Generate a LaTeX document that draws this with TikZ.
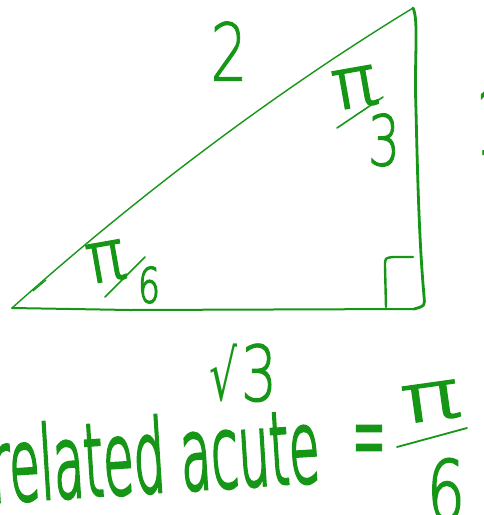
\documentclass[tikz,border=0pt]{standalone}
\usepackage{fontspec}
\usepackage{graphicx}
\newfontfamily\hand{DejaVu Sans ExtraLight}
\newfontfamily\handreg{DejaVu Sans}
\definecolor{ink}{RGB}{22,150,22}
\newcommand{\bold}[2]{\special{pdf:literal direct 2 Tr #1 w}#2\special{pdf:literal direct 0 Tr}}
\newcommand{\hw}[4][1]{\resizebox{#2pt}{#3pt}{\fontsize{64pt}{64pt}\hand\bold{#1}{#4}}}
\begin{document}
\begin{tikzpicture}[x=1pt,y=-1pt,
  pen/.style={draw=ink,line cap=round,line join=round},
  lbl/.style={text=ink,inner sep=0pt,outer sep=0pt}]
\useasboundingbox (0,0) rectangle (484,515);
\begin{scope}
\clip (0,0) rectangle (484,515);
% triangle vertices
\coordinate (A) at (12,308);
\coordinate (C) at (413,8);
\coordinate (B) at (414,309);
% hypotenuse
\draw[pen,line width=1.4pt] (A) .. controls (135,198) and (272,94) .. (C);
\draw[pen,line width=1.2pt] (33,291) -- (46,280);
% right side
\draw[pen,line width=2.8pt] (C) .. controls (419,20) and (414,60) .. (416,110)
  .. controls (418,200) and (420,250) .. (424,296) .. controls (425,306) .. (B);
% bottom side
\draw[pen,line width=2pt] (B) -- (130,310) -- (A);
% right angle mark
\draw[pen,line width=2.4pt] (386,307) -- (385,266) .. controls (385,258) .. (393,257) -- (413,257);
% labels
\node[lbl] (two) at (229,51) {\hw[0.8]{37}{59}{2}};
\node[lbl] (one) at (489,121) {\hw[1]{24}{67}{1}};
\node[lbl,rotate=10] (pia) at (355,88) {\hw[2]{44}{38}{π}};
\draw[pen,line width=1.6pt] (337,128) -- (383,97);
\node[lbl] (three) at (384,140) {\hw[1]{32}{52}{3}};
\node[lbl,rotate=10] (pib) at (106,262) {\hw[2]{38}{38}{π}};
\draw[pen,line width=1.6pt] (105,297) -- (145,257);
\node[lbl] (six) at (149,285) {\hw[2]{22}{36}{6}};
\node[lbl] (root) at (243,373) {\fontsize{64pt}{64pt}\resizebox*{28pt}{58pt}{\handreg √}\hspace{4pt}\resizebox{36pt}{57pt}{\hand\bold{1}{3}}};
\node[lbl,anchor=base west,rotate=3.6] (rel) at (-8,502) {\hw[2.4]{330}{76}{related acute}};
\node[lbl,anchor=north] (eq) at (369,426) {\hw[1.5]{34}{50}{=}};
\node[lbl,rotate=8] (pic) at (431,402) {\hw[2]{58}{36}{π}};
\draw[pen,line width=1.8pt] (397,447) -- (467,428);
\node[lbl] (sixb) at (446,490) {\hw[1.5]{38}{62}{6}};
\end{scope}
\end{tikzpicture}
\end{document}
